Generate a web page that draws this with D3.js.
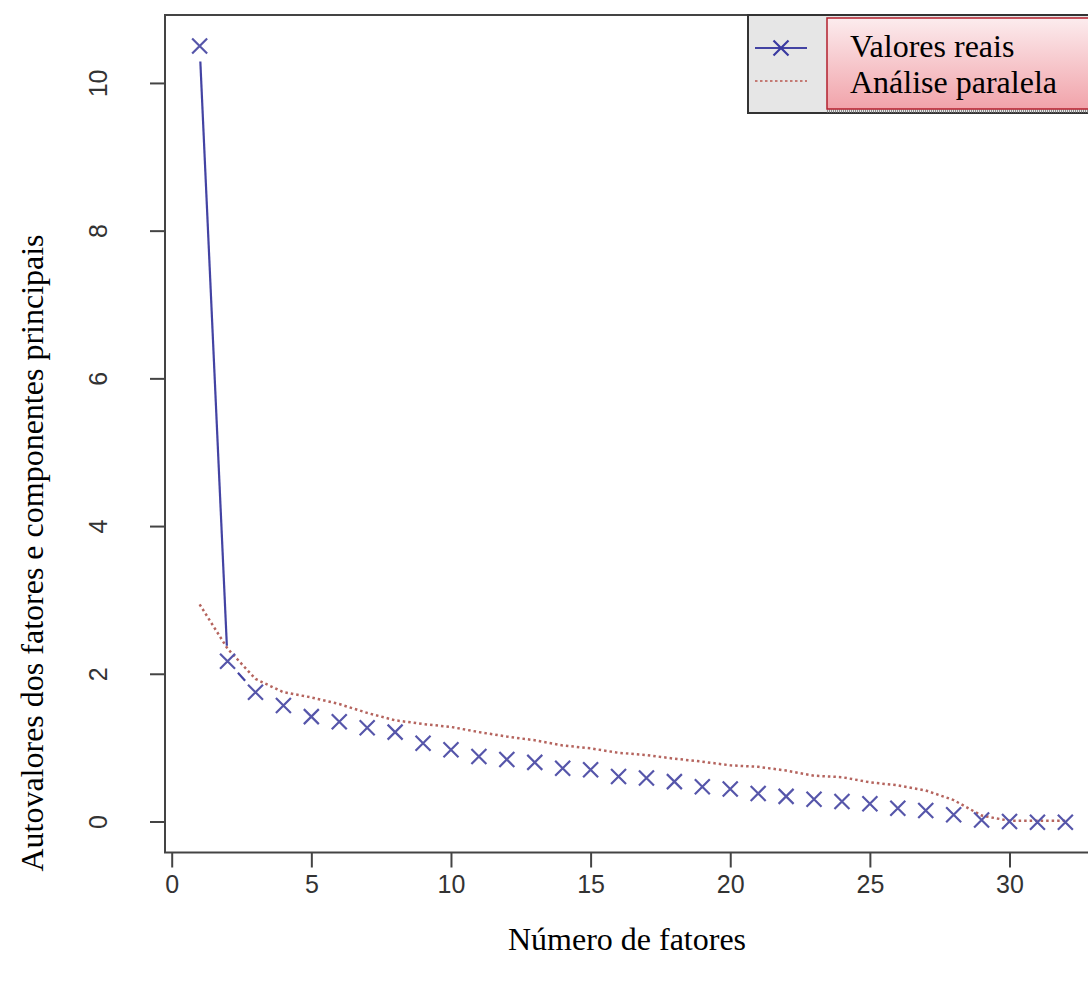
<!DOCTYPE html>
<html>
<head>
<meta charset="utf-8">
<script src="https://cdn.jsdelivr.net/npm/d3@7"></script>
<style>
  body { margin: 0; background: #ffffff; }
  svg { display: block; }
</style>
</head>
<body>
<div id="chart"></div>
<script>
var width = 1088;
var height = 981;

// dados
var fatores = [1, 2, 3, 4, 5, 6, 7, 8, 9, 10, 11, 12, 13, 14, 15, 16,
               17, 18, 19, 20, 21, 22, 23, 24, 25, 26, 27, 28, 29, 30, 31, 32];
var valoresReais = [10.50, 2.17, 1.75, 1.57, 1.42, 1.35, 1.27, 1.21, 1.06, 0.97, 0.88,
                    0.84, 0.80, 0.72, 0.70, 0.61, 0.59, 0.54, 0.47, 0.44, 0.38, 0.34,
                    0.30, 0.27, 0.24, 0.18, 0.15, 0.09, 0.02, 0.00, -0.01, -0.01];
var analiseParalela = [2.94, 2.34, 1.93, 1.75, 1.68, 1.59, 1.47, 1.37, 1.32, 1.28, 1.21,
                       1.15, 1.10, 1.03, 0.99, 0.93, 0.90, 0.85, 0.81, 0.76, 0.74, 0.69,
                       0.62, 0.60, 0.53, 0.49, 0.42, 0.29, 0.08, 0.01, 0.01, 0.01];
var xTicks = [0, 5, 10, 15, 20, 25, 30];
var yTicks = [0, 2, 4, 6, 8, 10];
var legendLabels = ["Valores reais", "Análise paralela"];

var plotLeft = 165, plotRight = 1100, plotTop = 15, plotBottom = 852.5;

var x = d3.scaleLinear().domain([-0.24, 33.24]).range([plotLeft, plotRight]);
var y = d3.scaleLinear().domain([-0.42, 10.92]).range([plotBottom, plotTop]);

var svg = d3.select("#chart")
            .append("svg")
            .attr("width", width)
            .attr("height", height);

var defs = svg.append("defs");
var grad = defs.append("linearGradient")
               .attr("id", "pink")
               .attr("x1", 0).attr("y1", 0)
               .attr("x2", 0).attr("y2", 1);
grad.append("stop").attr("offset", "0%").attr("stop-color", "#fcecee");
grad.append("stop").attr("offset", "100%").attr("stop-color", "#f1a3aa");

// eixos
var xAxis = svg.append("g")
               .attr("transform", "translate(0," + plotBottom + ")")
               .call(d3.axisBottom(x).tickValues(xTicks).tickSize(15).tickPadding(0).tickFormat(d3.format("d")));

xAxis.select(".domain").remove();
xAxis.selectAll("line").attr("stroke", "#444").attr("stroke-width", 2);
xAxis.selectAll("text")
     .attr("y", 40)
     .attr("dy", null)
     .attr("fill", "#333")
     .style("font", "25px 'Liberation Sans', Arial, sans-serif");

var yAxis = svg.append("g")
               .attr("transform", "translate(" + plotLeft + ",0)")
               .call(d3.axisLeft(y).tickValues(yTicks).tickSize(15).tickFormat(d3.format("d")));

yAxis.select(".domain").remove();
yAxis.selectAll("line").attr("stroke", "#444").attr("stroke-width", 2);
yAxis.selectAll("text")
     .attr("x", null)
     .attr("dy", null)
     .attr("text-anchor", "middle")
     .attr("transform", "translate(-58,0) rotate(-90)")
     .attr("fill", "#333")
     .style("font", "25px 'Liberation Sans', Arial, sans-serif");

// moldura do grafico
svg.append("rect")
   .attr("x", plotLeft)
   .attr("y", plotTop)
   .attr("width", plotRight - plotLeft)
   .attr("height", plotBottom - plotTop)
   .attr("fill", "none")
   .attr("stroke", "#444")
   .attr("stroke-width", 2);

// analise paralela (pontilhada)
var line = d3.line()
             .x(function(d, i) { return x(fatores[i]); })
             .y(function(d) { return y(d); });

svg.append("path")
   .datum(analiseParalela)
   .attr("d", line)
   .attr("fill", "none")
   .attr("stroke", "#b5645e")
   .attr("stroke-width", 2.5)
   .attr("stroke-dasharray", "2.5,3");

// valores reais: linha com falhas em volta dos pontos (tipo "b" do R)
var gap = 15.5;
var segs = [];
for (var i = 0; i < fatores.length - 1; i++) {
    var x0 = x(fatores[i]), y0 = y(valoresReais[i]);
    var x1 = x(fatores[i + 1]), y1 = y(valoresReais[i + 1]);
    var len = Math.sqrt((x1 - x0) * (x1 - x0) + (y1 - y0) * (y1 - y0));
    if (len <= 2 * gap) continue;
    var ux = (x1 - x0) / len, uy = (y1 - y0) / len;
    segs.push([x0 + ux * gap, y0 + uy * gap, x1 - ux * gap, y1 - uy * gap]);
}

svg.append("g")
   .selectAll("line")
   .data(segs)
   .enter()
   .append("line")
   .attr("x1", function(d) { return d[0]; })
   .attr("y1", function(d) { return d[1]; })
   .attr("x2", function(d) { return d[2]; })
   .attr("y2", function(d) { return d[3]; })
   .attr("stroke", "#4343a3")
   .attr("stroke-width", 2.2);

var s = 7.5;
function cross(cx, cy) {
    return "M" + (cx - s) + "," + (cy - s) + "L" + (cx + s) + "," + (cy + s) +
           "M" + (cx - s) + "," + (cy + s) + "L" + (cx + s) + "," + (cy - s);
}

svg.append("g")
   .selectAll("path")
   .data(valoresReais)
   .enter()
   .append("path")
   .attr("d", function(d, i) { return cross(x(fatores[i]), y(d)); })
   .attr("fill", "none")
   .attr("stroke", "#5656aa")
   .attr("stroke-width", 2.2);

// legenda
var leg = svg.append("g");

leg.append("rect")
   .attr("x", 748)
   .attr("y", 15)
   .attr("width", 400)
   .attr("height", 98)
   .attr("fill", "#e6e6e6")
   .attr("stroke", "#333")
   .attr("stroke-width", 2);

leg.append("line")
   .attr("x1", 827).attr("x2", 1090)
   .attr("y1", 111).attr("y2", 111)
   .attr("stroke", "#888")
   .attr("stroke-width", 3)
   .attr("stroke-dasharray", "1,1");

leg.append("rect")
   .attr("x", 827)
   .attr("y", 18)
   .attr("width", 300)
   .attr("height", 91)
   .attr("fill", "url(#pink)")
   .attr("stroke", "#b3202e")
   .attr("stroke-width", 1.5);

leg.append("line")
   .attr("x1", 755).attr("x2", 807)
   .attr("y1", 48).attr("y2", 48)
   .attr("stroke", "#4343a3")
   .attr("stroke-width", 2.2);

leg.append("path")
   .attr("d", cross(781, 48))
   .attr("fill", "none")
   .attr("stroke", "#3a3aa0")
   .attr("stroke-width", 2.2);

leg.append("line")
   .attr("x1", 755).attr("x2", 807)
   .attr("y1", 81).attr("y2", 81)
   .attr("stroke", "#c47a74")
   .attr("stroke-width", 2.2)
   .attr("stroke-dasharray", "2.5,2.5");

leg.selectAll("text")
   .data(legendLabels)
   .enter()
   .append("text")
   .attr("x", 850)
   .attr("y", function(d, i) { return 57 + i * 36; })
   .style("font", "32px 'Liberation Serif', 'Times New Roman', serif")
   .attr("fill", "#000")
   .text(function(d) { return d; });

// titulos dos eixos
svg.append("text")
   .attr("x", 627)
   .attr("y", 950)
   .attr("text-anchor", "middle")
   .style("font", "32px 'Liberation Serif', 'Times New Roman', serif")
   .text("Número de fatores");

svg.append("text")
   .attr("transform", "translate(43,553) rotate(-90)")
   .attr("text-anchor", "middle")
   .style("font", "32px 'Liberation Serif', 'Times New Roman', serif")
   .text("Autovalores dos fatores e componentes principais");
</script>
</body>
</html>
